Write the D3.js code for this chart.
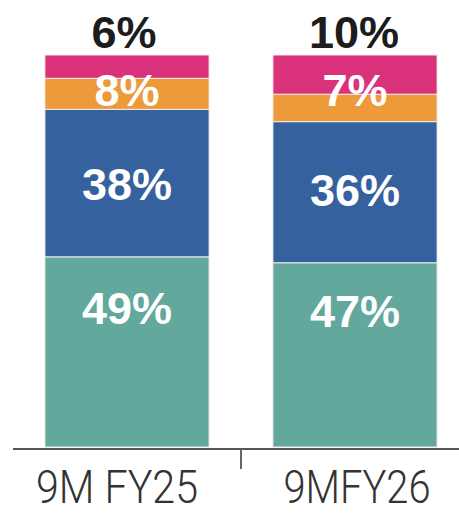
<!DOCTYPE html>
<html>
<head>
<meta charset="utf-8">
<script src="https://cdn.jsdelivr.net/npm/d3@7"></script>
<style>
  html, body { margin: 0; padding: 0; background: #ffffff; }
  svg { display: block; }
</style>
</head>
<body>
<script>
// ---- data ----
const categories = ["9M FY25", "9MFY26"];
const seriesKeys = ["teal", "blue", "orange", "pink"];
const tealValues = [49, 47];
const blueValues = [38, 36];
const orangeValues = [8, 7];
const pinkValues = [6, 10];
const seriesColors = ["#62a89c", "#35619f", "#ec9a3a", "#d9317a"];

// ---- build table ----
const table = categories.map((c, i) => ({
  cat: c,
  teal: tealValues[i],
  blue: blueValues[i],
  orange: orangeValues[i],
  pink: pinkValues[i]
}));

const W = 459, H = 515;
const baseY = 447, topY = 55;

const svg = d3.select("body").append("svg").attr("width", W).attr("height", H);

const x = d3.scaleBand().domain(categories).range([13, 469]).paddingInner(0.28).paddingOuter(0.14);
const y = d3.scaleLinear().domain([0, 1]).range([baseY, topY]);
const color = d3.scaleOrdinal().domain(seriesKeys).range(seriesColors);

const stacked = d3.stack().keys(seriesKeys).offset(d3.stackOffsetExpand)(table);

const layers = svg.append("g").selectAll("g").data(stacked).join("g")
  .attr("fill", d => color(d.key));

layers.selectAll("rect").data(d => d).join("rect")
  .attr("x", d => x(d.data.cat))
  .attr("width", x.bandwidth())
  .attr("y", d => y(d[1]))
  .attr("height", d => y(d[0]) - y(d[1]))
  .attr("stroke", "#f4ecea")
  .attr("stroke-width", 1);

// axis
const axisG = svg.append("g").attr("transform", `translate(0,${baseY + 2})`);
axisG.append("line").attr("x1", 13).attr("x2", W).attr("y1", 0).attr("y2", 0)
  .attr("stroke", "#555").attr("stroke-width", 2);
const tickX = (x(categories[0]) + x.bandwidth() + x(categories[1])) / 2;
axisG.append("line").attr("x1", tickX).attr("x2", tickX).attr("y1", 0).attr("y2", 20)
  .attr("stroke", "#666").attr("stroke-width", 2);

// inside labels
const labelFont = "'Liberation Sans', Arial, sans-serif";
const labelShift = { teal: [-44, -44], blue: [1, -2] };
["teal", "blue"].forEach(key => {
  const layer = stacked.find(s => s.key === key);
  svg.append("g").selectAll("text").data(layer).join("text")
    .attr("x", d => x(d.data.cat) + x.bandwidth() / 2)
    .attr("y", (d, i) => (y(d[0]) + y(d[1])) / 2 + labelShift[key][i])
    .attr("dy", "0.36em")
    .attr("text-anchor", "middle")
    .attr("fill", "#ffffff")
    .attr("font-family", labelFont)
    .attr("font-weight", "bold")
    .attr("font-size", 45)
    .text(d => d.data[key] + "%");
});
// orange labels, sitting near the pink/orange boundary
const orangeLayer = stacked.find(s => s.key === "orange");
svg.append("g").selectAll("text").data(orangeLayer).join("text")
  .attr("x", d => x(d.data.cat) + x.bandwidth() / 2)
  .attr("y", y(0.91))
  .attr("dy", "0.36em")
  .attr("text-anchor", "middle")
  .attr("fill", "#ffffff")
  .attr("font-family", labelFont)
  .attr("font-weight", "bold")
  .attr("font-size", 45)
  .text(d => d.data.orange + "%");

// top labels (pink values)
const pinkLayer = stacked.find(s => s.key === "pink");
svg.append("g").selectAll("text").data(pinkLayer).join("text")
  .attr("x", (d, i) => x(d.data.cat) + x.bandwidth() / 2 + (i === 0 ? -3 : -1))
  .attr("y", 48)
  .attr("text-anchor", "middle")
  .attr("fill", "#1c1c1c")
  .attr("font-family", labelFont)
  .attr("font-weight", "bold")
  .attr("font-size", 45)
  .text(d => d.data.pink + "%");

// category labels
const catDx = [-10, 2];
const catLen = [162, 147];
svg.append("g").selectAll("text").data(categories).join("text")
  .attr("x", (d, i) => x(d) + x.bandwidth() / 2 + catDx[i] - catLen[i] / 2)
  .attr("y", 503)
  .attr("fill", "#333")
  .attr("font-family", "Roboto, sans-serif")
  .attr("font-weight", 300)
  .attr("font-size", 46)
  .attr("textLength", (d, i) => catLen[i])
  .attr("lengthAdjust", "spacingAndGlyphs")
  .text(d => d);
</script>
</body>
</html>
